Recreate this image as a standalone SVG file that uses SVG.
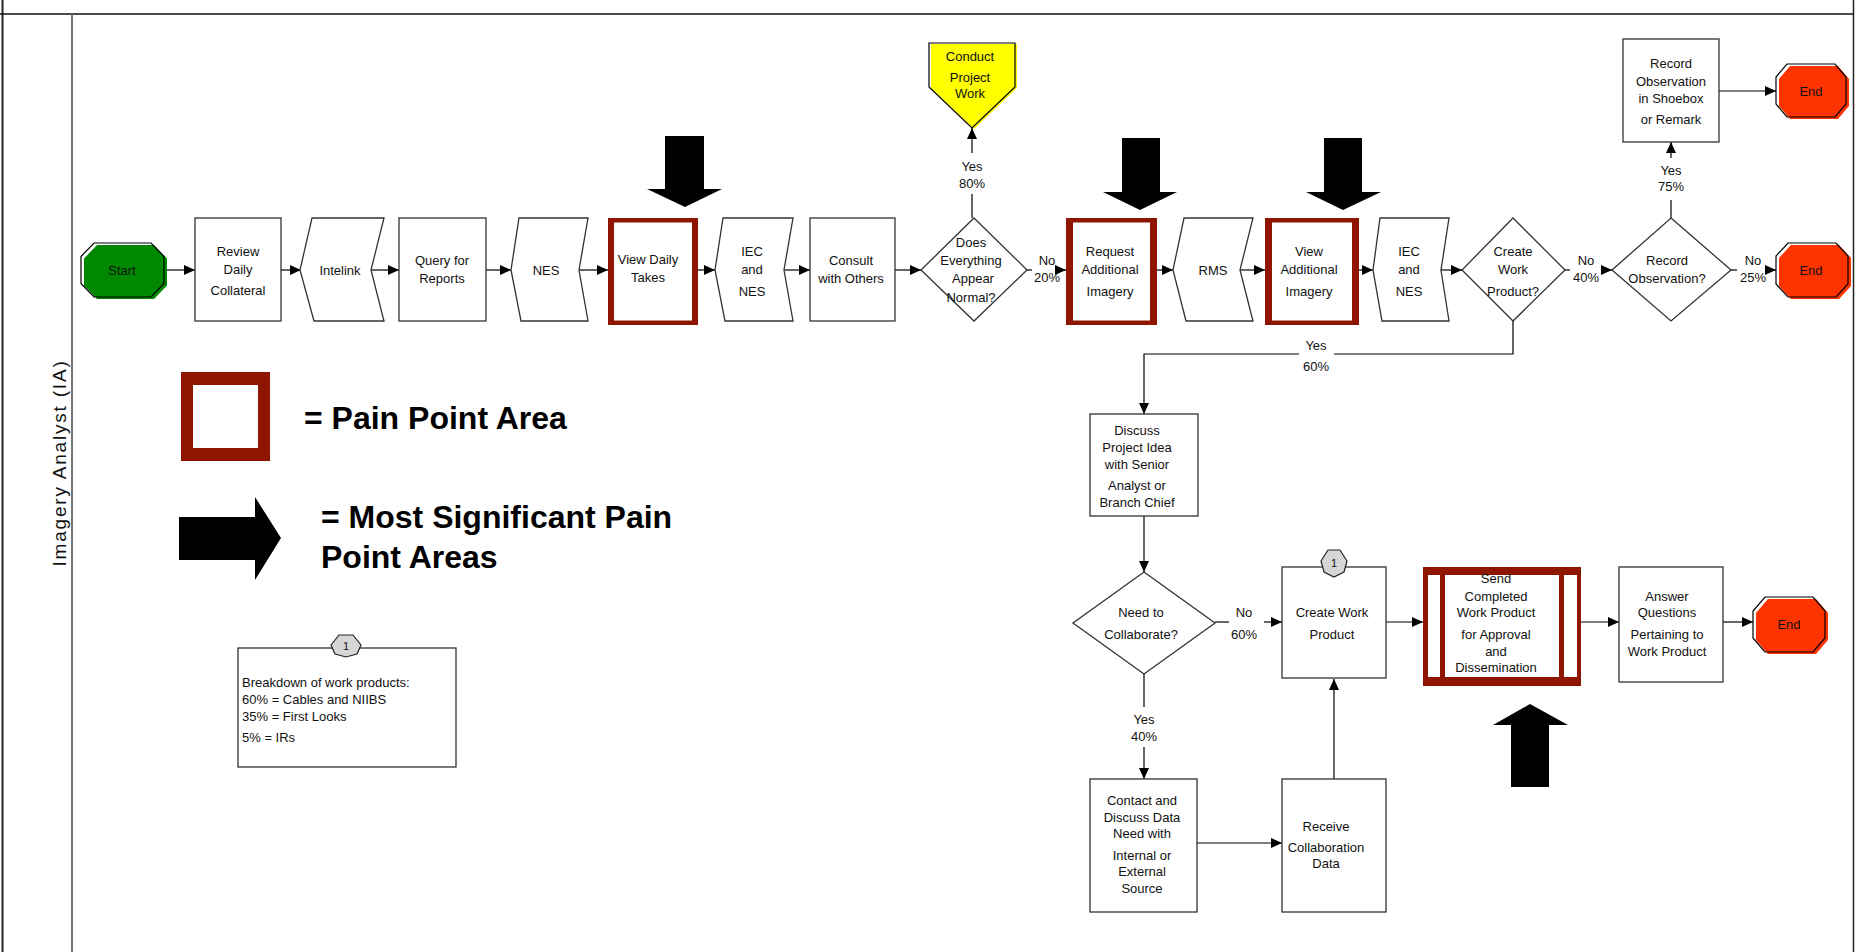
<svg xmlns="http://www.w3.org/2000/svg" width="1860" height="952" viewBox="0 0 1860 952">
<style>
.t{font-family:"Liberation Sans",Arial,sans-serif;font-size:13px;fill:#111;text-anchor:middle}
.n{font-family:"Liberation Sans",Arial,sans-serif;font-size:13px;fill:#111}
.big{font-family:"Liberation Sans",Arial,sans-serif;font-size:32px;font-weight:bold;fill:#000}
.box{fill:#fff;stroke:#333;stroke-width:1.3}
.c{fill:none;stroke:#000;stroke-width:1.2}
.ca{fill:none;stroke:#000;stroke-width:1.2;marker-end:url(#ah)}
.red{fill:#8e1500}
.blk{fill:#000}
.badge{fill:#d6d6d6;stroke:#222;stroke-width:1.2}
</style>
<defs>
<marker id="ah" markerWidth="11" markerHeight="10" refX="11" refY="5" orient="auto" markerUnits="userSpaceOnUse"><path d="M0,0 L11,5 L0,10 z" fill="#000"/></marker>
</defs>
<rect x="0" y="0" width="1860" height="952" fill="#fff"/>
<g id="frame">
<line x1="2.5" y1="0" x2="2.5" y2="952" stroke="#222" stroke-width="2"/>
<line x1="1853.5" y1="0" x2="1853.5" y2="952" stroke="#222" stroke-width="1.5"/>
<line x1="0" y1="14" x2="1854" y2="14" stroke="#111" stroke-width="1.5"/>
<line x1="72" y1="14" x2="72" y2="952" stroke="#777" stroke-width="2"/>
<text transform="translate(66,463) rotate(-90)" style="font-family:'Liberation Sans',Arial,sans-serif;font-size:19px;letter-spacing:1.8px;fill:#111;text-anchor:middle">Imagery Analyst (IA)</text>
</g>
<g id="connectors">
<line class="ca" x1="164" y1="270" x2="195" y2="270"/>
<line class="ca" x1="281" y1="270" x2="301" y2="270"/>
<line class="ca" x1="371" y1="270" x2="399" y2="270"/>
<line class="ca" x1="486" y1="270" x2="511" y2="270"/>
<line class="ca" x1="579" y1="270" x2="608" y2="270"/>
<line class="ca" x1="698" y1="270" x2="715" y2="270"/>
<line class="ca" x1="784" y1="270" x2="810" y2="270"/>
<line class="ca" x1="895" y1="270" x2="921" y2="270"/>
<line class="c" x1="972" y1="218" x2="972" y2="194"/>
<line class="ca" x1="972" y1="153" x2="972" y2="128"/>
<line class="c" x1="1027" y1="270" x2="1032" y2="270"/>
<line class="ca" x1="1060" y1="270" x2="1066" y2="270"/>
<line class="ca" x1="1157" y1="270" x2="1173" y2="270"/>
<line class="ca" x1="1240" y1="270" x2="1265" y2="270"/>
<line class="ca" x1="1359" y1="270" x2="1373" y2="270"/>
<line class="ca" x1="1441" y1="270" x2="1462" y2="270"/>
<line class="c" x1="1565" y1="270" x2="1570" y2="270"/>
<line class="ca" x1="1603" y1="270" x2="1612" y2="270"/>
<line class="c" x1="1731" y1="270" x2="1737" y2="270"/>
<line class="ca" x1="1768" y1="270" x2="1776" y2="270"/>
<line class="c" x1="1671" y1="218" x2="1671" y2="200"/>
<line class="ca" x1="1671" y1="158" x2="1671" y2="142"/>
<line class="ca" x1="1719" y1="91" x2="1776" y2="91"/>
<polyline class="c" points="1513,321 1513,354 1334,354"/>
<polyline class="ca" points="1299,354 1144,354 1144,414"/>
<line class="ca" x1="1144" y1="516" x2="1144" y2="572"/>
<line class="c" x1="1215" y1="622" x2="1229" y2="622"/>
<line class="ca" x1="1264" y1="622" x2="1282" y2="622"/>
<line class="c" x1="1144" y1="674" x2="1144" y2="707"/>
<line class="ca" x1="1144" y1="747" x2="1144" y2="779"/>
<line class="ca" x1="1197" y1="843" x2="1282" y2="843"/>
<line class="ca" x1="1334" y1="779" x2="1334" y2="679"/>
<line class="ca" x1="1386" y1="622" x2="1423" y2="622"/>
<line class="ca" x1="1581" y1="622" x2="1619" y2="622"/>
<line class="ca" x1="1723" y1="622" x2="1753" y2="622"/>
<g class="t">
<text x="972" y="171">Yes</text><text x="972" y="188">80%</text>
<text x="1047" y="265">No</text><text x="1047" y="282">20%</text>
<text x="1586" y="265">No</text><text x="1586" y="282">40%</text>
<text x="1753" y="265">No</text><text x="1753" y="282">25%</text>
<text x="1671" y="175">Yes</text><text x="1671" y="191">75%</text>
<text x="1316" y="350">Yes</text><text x="1316" y="371">60%</text>
<text x="1244" y="617">No</text><text x="1244" y="639">60%</text>
<text x="1144" y="724">Yes</text><text x="1144" y="741">40%</text>
</g>
</g>
<g id="start">
<polygon points="94,243 151,243 164,256.5 164,283.5 151,297 94,297 81,283.5 81,256.5" transform="translate(3,2)" fill="#008800"/>
<polygon points="94,243 151,243 164,256.5 164,283.5 151,297 94,297 81,283.5 81,256.5" fill="none" stroke="#000" stroke-width="1.2"/>
<text class="t" x="122" y="275">Start</text>
</g>
<g id="review">
<rect class="box" x="195" y="218" width="86" height="103"/>
<text class="t" x="238" y="256">Review</text><text class="t" x="238" y="274">Daily</text><text class="t" x="238" y="295">Collateral</text>
</g>
<g id="intelink">
<polygon class="box" points="312,218 384,218 371,270 384,321 314,321 300,270"/>
<text class="t" x="340" y="275">Intelink</text>
</g>
<g id="query">
<rect class="box" x="399" y="218" width="87" height="103"/>
<text class="t" x="442" y="265">Query for</text><text class="t" x="442" y="283">Reports</text>
</g>
<g id="nes1">
<polygon class="box" points="519,218 588,218 579,270 588,321 521,321 511,270"/>
<text class="t" x="546" y="275">NES</text>
</g>
<g id="viewdaily">
<rect class="red" x="608" y="218" width="90" height="107"/>
<rect fill="#fff" x="614" y="222.5" width="78" height="98"/>
<text class="t" x="648" y="264">View Daily</text><text class="t" x="648" y="282">Takes</text>
</g>
<g id="iec1">
<polygon class="box" points="723,218 793,218 784,270 793,321 725,321 715,270"/>
<text class="t" x="752" y="256">IEC</text><text class="t" x="752" y="274">and</text><text class="t" x="752" y="296">NES</text>
</g>
<g id="consult">
<rect class="box" x="810" y="218" width="85" height="103"/>
<text class="t" x="851" y="265">Consult</text><text class="t" x="851" y="283">with Others</text>
</g>
<g id="normal">
<polygon class="box" points="974,218 1027,270 974,321 921,270"/>
<text class="t" x="971" y="247">Does</text><text class="t" x="971" y="265">Everything</text><text class="t" x="973" y="283">Appear</text><text class="t" x="971" y="302">Normal?</text>
</g>
<g id="conduct">
<polygon points="929,43 1015,43 1015,87 972,128 929,87" transform="translate(2,1)" fill="#ffff00"/>
<polygon points="929,43 1015,43 1015,87 972,128 929,87" fill="none" stroke="#000" stroke-width="1.2"/>
<text class="t" x="970" y="61">Conduct</text><text class="t" x="970" y="82">Project</text><text class="t" x="970" y="98">Work</text>
</g>
<g id="request">
<rect class="red" x="1066" y="218" width="91" height="107"/>
<rect fill="#fff" x="1073" y="222.5" width="77" height="98"/>
<text class="t" x="1110" y="256">Request</text><text class="t" x="1110" y="274">Additional</text><text class="t" x="1110" y="296">Imagery</text>
</g>
<g id="rms">
<polygon class="box" points="1184,218 1253,218 1240,270 1253,321 1186,321 1173,270"/>
<text class="t" x="1213" y="275">RMS</text>
</g>
<g id="viewadd">
<rect class="red" x="1265" y="218" width="94" height="107"/>
<rect fill="#fff" x="1272" y="222.5" width="80" height="98"/>
<text class="t" x="1309" y="256">View</text><text class="t" x="1309" y="274">Additional</text><text class="t" x="1309" y="296">Imagery</text>
</g>
<g id="iec2">
<polygon class="box" points="1380,218 1449,218 1441,270 1449,321 1382,321 1373,270"/>
<text class="t" x="1409" y="256">IEC</text><text class="t" x="1409" y="274">and</text><text class="t" x="1409" y="296">NES</text>
</g>
<g id="createq">
<polygon class="box" points="1513,218 1565,270 1513,321 1462,270"/>
<text class="t" x="1513" y="256">Create</text><text class="t" x="1513" y="274">Work</text><text class="t" x="1513" y="296">Product?</text>
</g>
<g id="recordq">
<polygon class="box" points="1671,218 1731,270 1671,321 1612,270"/>
<text class="t" x="1667" y="265">Record</text><text class="t" x="1667" y="283">Observation?</text>
</g>
<g id="recordbox">
<rect class="box" x="1623" y="39" width="96" height="103"/>
<text class="t" x="1671" y="68">Record</text><text class="t" x="1671" y="86">Observation</text><text class="t" x="1671" y="103">in Shoebox</text><text class="t" x="1671" y="124">or Remark</text>
</g>
<g id="end1">
<polygon points="1787,64 1835,64 1846,77 1846,104 1835,117 1787,117 1776,104 1776,77" transform="translate(3,2)" fill="#ff3300"/>
<polygon points="1787,64 1835,64 1846,77 1846,104 1835,117 1787,117 1776,104 1776,77" fill="none" stroke="#000" stroke-width="1.2"/>
<text class="t" x="1811" y="96">End</text>
</g>
<g id="end2">
<polygon points="1788,243 1836,243 1848,256 1848,284 1836,297 1788,297 1776,284 1776,256" transform="translate(3,2)" fill="#ff3300"/>
<polygon points="1788,243 1836,243 1848,256 1848,284 1836,297 1788,297 1776,284 1776,256" fill="none" stroke="#000" stroke-width="1.2"/>
<text class="t" x="1811" y="275">End</text>
</g>
<g id="discuss">
<rect class="box" x="1090" y="414" width="108" height="102"/>
<text class="t" x="1137" y="435">Discuss</text><text class="t" x="1137" y="452">Project Idea</text><text class="t" x="1137" y="469">with Senior</text><text class="t" x="1137" y="490">Analyst or</text><text class="t" x="1137" y="507">Branch Chief</text>
</g>
<g id="collab">
<polygon class="box" points="1144,572 1215,623 1144,674 1073,623"/>
<text class="t" x="1141" y="617">Need to</text><text class="t" x="1141" y="639">Collaborate?</text>
</g>
<g id="createwp">
<rect class="box" x="1282" y="567" width="104" height="111"/>
<text class="t" x="1332" y="617">Create Work</text><text class="t" x="1332" y="639">Product</text>
<polygon class="badge" points="1328,550 1340,550 1347,561 1344,572 1334,577 1324,572 1321,561"/>
<text class="t" x="1334" y="567" style="font-size:11px">1</text>
</g>
<g id="send">
<rect class="red" x="1423" y="567" width="158" height="119"/>
<rect fill="#fff" x="1428" y="575" width="149" height="102"/>
<rect class="red" x="1440" y="575" width="5" height="102"/>
<rect class="red" x="1559" y="575" width="5" height="102"/>
<text class="t" x="1496" y="583">Send</text><text class="t" x="1496" y="601">Completed</text><text class="t" x="1496" y="617">Work Product</text><text class="t" x="1496" y="639">for Approval</text><text class="t" x="1496" y="656">and</text><text class="t" x="1496" y="672">Dissemination</text>
</g>
<g id="answer">
<rect class="box" x="1619" y="567" width="104" height="115"/>
<text class="t" x="1667" y="601">Answer</text><text class="t" x="1667" y="617">Questions</text><text class="t" x="1667" y="639">Pertaining to</text><text class="t" x="1667" y="656">Work Product</text>
</g>
<g id="end3">
<polygon points="1765,597 1813,597 1825,611 1825,638 1813,652 1765,652 1753,638 1753,611" transform="translate(3,2)" fill="#ff3300"/>
<polygon points="1765,597 1813,597 1825,611 1825,638 1813,652 1765,652 1753,638 1753,611" fill="none" stroke="#000" stroke-width="1.2"/>
<text class="t" x="1789" y="629">End</text>
</g>
<g id="contact">
<rect class="box" x="1090" y="779" width="107" height="133"/>
<text class="t" x="1142" y="805">Contact and</text><text class="t" x="1142" y="822">Discuss Data</text><text class="t" x="1142" y="838">Need with</text><text class="t" x="1142" y="860">Internal or</text><text class="t" x="1142" y="876">External</text><text class="t" x="1142" y="893">Source</text>
</g>
<g id="receive">
<rect class="box" x="1282" y="779" width="104" height="133"/>
<text class="t" x="1326" y="831">Receive</text><text class="t" x="1326" y="852">Collaboration</text><text class="t" x="1326" y="868">Data</text>
</g>
<g id="painarrows">
<polygon class="blk" points="665,136 704,136 704,189 722,189 685,207 647,189 665,189"/>
<polygon class="blk" points="1122,138 1160,138 1160,192 1177,192 1140,210 1103,192 1122,192"/>
<polygon class="blk" points="1324,138 1362,138 1362,192 1381,192 1343,210 1306,192 1324,192"/>
<polygon class="blk" points="1511,787 1549,787 1549,725 1568,725 1530,704 1493,725 1511,725"/>
</g>
<g id="legend">
<rect class="red" x="181" y="372" width="89" height="89"/>
<rect fill="#fff" x="193" y="385" width="65" height="63"/>
<text class="big" x="304" y="429">= Pain Point Area</text>
<polygon class="blk" points="179,517 255,517 255,497 281,538 255,580 255,560 179,560"/>
<text class="big" x="321" y="528">= Most Significant Pain</text>
<text class="big" x="321" y="568">Point Areas</text>
</g>
<g id="note">
<rect class="box" x="238" y="648" width="218" height="119"/>
<polygon class="badge" points="339,635 353,635 361,645 357,654 346,657 335,654 331,645"/>
<text class="t" x="346" y="650" style="font-size:11px">1</text>
<text class="n" x="242" y="687">Breakdown of work products:</text>
<text class="n" x="242" y="704">60% = Cables and NIIBS</text>
<text class="n" x="242" y="721">35% = First Looks</text>
<text class="n" x="242" y="742">5% = IRs</text>
</g>
</svg>
